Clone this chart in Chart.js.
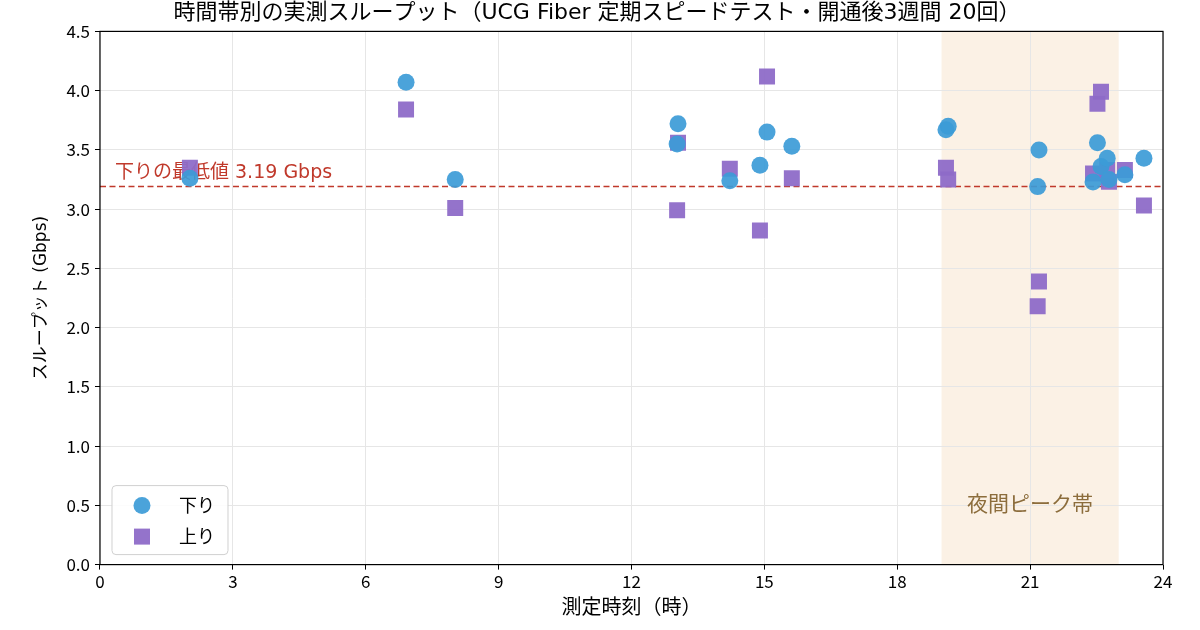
<!DOCTYPE html>
<html>
<head>
<meta charset="utf-8">
<script src="https://cdn.jsdelivr.net/npm/chart.js@4/dist/chart.umd.min.js"></script>
<style>
  html, body { margin: 0; padding: 0; background: #fff; }
  #wrap { width: 1200px; height: 630px; }
</style>
</head>
<body>
<div id="wrap"><canvas id="chart" width="1200" height="630"></canvas></div>
<script>
// 測定時刻（時）
const hours = [2.03, 6.91, 8.02, 13.03, 13.05, 14.22, 14.90, 15.06, 15.62, 19.10,
               19.15, 21.17, 21.20, 22.42, 22.52, 22.60, 22.74, 22.78, 23.14, 23.57];
// 下り (Gbps)
const downValues = [3.26, 4.07, 3.25, 3.55, 3.72, 3.24, 3.37, 3.65, 3.53, 3.67,
                    3.70, 3.19, 3.50, 3.23, 3.56, 3.36, 3.43, 3.25, 3.29, 3.43];
// 上り (Gbps)
const upValues = [3.35, 3.84, 3.01, 2.99, 3.56, 3.34, 2.82, 4.12, 3.26, 3.35,
                  3.25, 2.18, 2.39, 3.30, 3.89, 3.99, 3.33, 3.23, 3.33, 3.03];

const xTicks = [0, 3, 6, 9, 12, 15, 18, 21, 24];
const minDown = 3.19;
const peakStart = 19;
const peakEnd = 23;

const FONT = '"Noto Sans CJK JP", "Noto Sans", sans-serif';
const WIDE = '"DejaVu Sans", "Noto Sans CJK JP", sans-serif';
const blue = 'rgba(60, 155, 215, 0.92)';
const purple = 'rgba(142, 108, 200, 0.95)';
const red = '#c0392b';

const overlay = {
    id: 'overlay',
    beforeDraw(chart) {
        const {ctx, chartArea, scales} = chart;
        const x1 = scales.x.getPixelForValue(peakStart);
        const x2 = scales.x.getPixelForValue(peakEnd);
        ctx.save();
        ctx.fillStyle = 'rgba(240, 200, 150, 0.25)';
        ctx.fillRect(x1, chartArea.top, x2 - x1, chartArea.bottom - chartArea.top);
        ctx.restore();
    },
    beforeDatasetsDraw(chart) {
        const {ctx, chartArea, scales} = chart;
        const y = scales.y.getPixelForValue(minDown);
        ctx.save();
        ctx.strokeStyle = red;
        ctx.lineWidth = 1.5;
        ctx.setLineDash([6, 3.5]);
        ctx.beginPath();
        ctx.moveTo(chartArea.left, y);
        ctx.lineTo(chartArea.right, y);
        ctx.stroke();
        ctx.setLineDash([]);
        ctx.font = '19px ' + WIDE;
        ctx.fillStyle = red;
        ctx.textBaseline = 'alphabetic';
        ctx.fillText('下りの最低値 3.19 Gbps', chartArea.left + 15, y - 9);

        ctx.font = '21px ' + FONT;
        ctx.fillStyle = '#8c6d3c';
        ctx.textAlign = 'center';
        ctx.textBaseline = 'middle';
        ctx.fillText('夜間ピーク帯', scales.x.getPixelForValue((peakStart + peakEnd) / 2), scales.y.getPixelForValue(0.52));
        ctx.restore();
    },
    afterDraw(chart) {
        const {ctx, chartArea} = chart;
        ctx.save();
        ctx.strokeStyle = '#000';
        ctx.lineWidth = 1.2;
        ctx.strokeRect(chartArea.left, chartArea.top, chartArea.right - chartArea.left, chartArea.bottom - chartArea.top);

        // legend
        const lx = chartArea.left + 12, ly = chartArea.bottom - 79;
        ctx.fillStyle = 'rgba(255,255,255,0.85)';
        ctx.strokeStyle = '#d0d0d0';
        ctx.lineWidth = 1;
        ctx.beginPath();
        ctx.roundRect(lx, ly, 116, 69, 4);
        ctx.fill();
        ctx.stroke();
        ctx.fillStyle = blue;
        ctx.beginPath();
        ctx.arc(lx + 30, ly + 20, 8.5, 0, Math.PI * 2);
        ctx.fill();
        ctx.fillStyle = purple;
        ctx.fillRect(lx + 22, ly + 43, 16, 16);
        ctx.fillStyle = '#000';
        ctx.font = '18px ' + FONT;
        ctx.textBaseline = 'middle';
        ctx.fillText('下り', lx + 67, ly + 20);
        ctx.fillText('上り', lx + 67, ly + 51);
        ctx.restore();
    }
};

const ctx = document.getElementById('chart').getContext('2d');

const chart = new Chart(ctx, {
    type: 'scatter',
    data: {
        datasets: [
            {
                label: '下り',
                data: hours.map((h, i) => ({x: h, y: downValues[i]})),
                backgroundColor: blue,
                borderWidth: 0,
                pointStyle: 'circle',
                pointRadius: 8.5,
                pointHoverRadius: 8.5
            },
            {
                label: '上り',
                data: hours.map((h, i) => ({x: h, y: upValues[i]})),
                backgroundColor: purple,
                borderWidth: 0,
                pointStyle: 'rect',
                pointRadius: 11.3,
                pointHoverRadius: 11.3
            }
        ]
    },
    options: {
        responsive: false,
        animation: false,
        events: [],
        layout: {padding: {left: 31, right: 37, top: 0, bottom: 12}},
        plugins: {
            legend: {display: false},
            tooltip: {enabled: false},
            title: {
                display: true,
                text: '時間帯別の実測スループット（UCG Fiber 定期スピードテスト・開通後3週間 20回）',
                color: '#000',
                font: {family: WIDE, size: 22, weight: 'normal'},
                padding: {top: 0, bottom: 5}
            }
        },
        scales: {
            x: {
                type: 'linear',
                min: 0,
                max: 24,
                afterBuildTicks: (axis) => { axis.ticks = xTicks.map(v => ({value: v})); },
                ticks: {color: '#000', font: {family: FONT, size: 17}, padding: 2, maxRotation: 0},
                grid: {color: '#e6e6e6', tickColor: '#000', tickLength: 5},
                border: {display: false},
                title: {display: true, text: '測定時刻（時）', color: '#000', font: {family: FONT, size: 20}, padding: {top: 0, bottom: 0}}
            },
            y: {
                min: 0,
                max: 4.5,
                ticks: {stepSize: 0.5, color: '#000', font: {family: FONT, size: 17}, padding: 5,
                        callback: (v) => v.toFixed(1)},
                grid: {color: '#e6e6e6', tickColor: '#000', tickLength: 5},
                border: {display: false},
                title: {display: true, text: 'スループット (Gbps)', color: '#000', font: {family: WIDE, size: 17}, padding: {top: 0, bottom: 10}}
            }
        }
    },
    plugins: [overlay]
});
</script>
</body>
</html>
